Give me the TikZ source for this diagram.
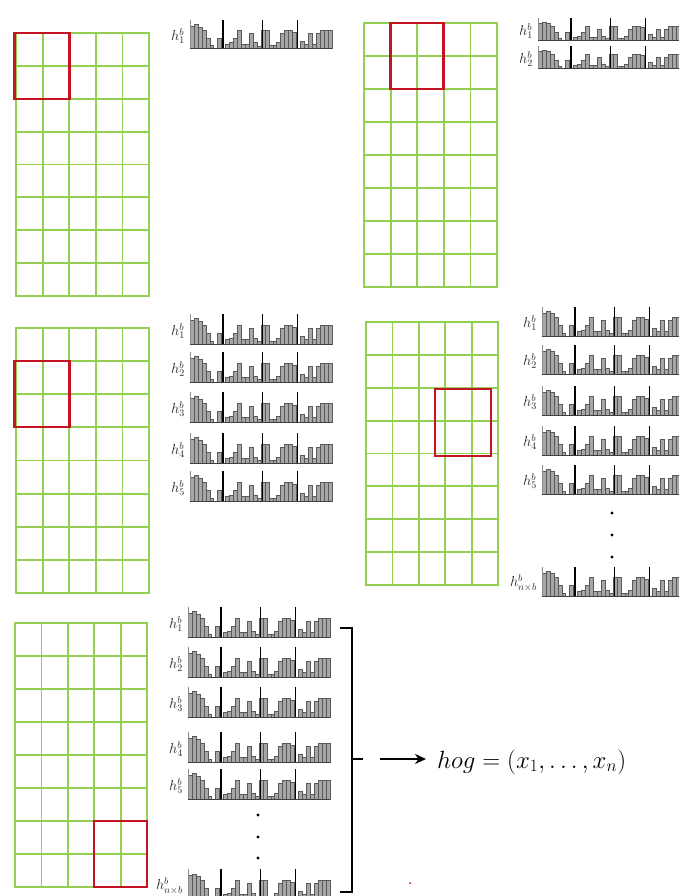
\documentclass[tikz,border=0pt]{standalone}
\usetikzlibrary{arrows.meta}
\definecolor{gridgreen}{RGB}{146,208,80}
\definecolor{boxred}{RGB}{195,20,35}
\def\histdata{0/0.83,1/0.89,2/0.8,3/0.67,4/0.39,5/0.11,7/0.39,9/0.17,10/0.22,11/0.39,12/0.67,13/0.17,14/0.17,15/0.56,16/0.22,17/0.1,18/0.67,19/0.67,20/0.11,21/0.11,22/0.22,23/0.56,24/0.67,25/0.67,26/0.61,28/0.28,29/0.17,30/0.56,31/0.17,32/0.56,33/0.67,34/0.67,35/0.67}
\def\spikelist{8,18,27}
\tikzset{
  gridline/.style={draw=gridgreen, line width=1.8pt},
  redbox/.style={draw=boxred, line width=2.8pt},
  histbar/.style={fill=black!35, draw=black!65, line width=0.4pt},
  spikeline/.style={draw=black, line width=1.4pt},
  axisline/.style={draw=black!45, line width=0.5pt},
  histbase/.style={draw=black!75, line width=0.8pt},
  hlabel/.style={anchor=east, inner sep=0pt, font=\fontsize{14}{14}\selectfont, text=black!85},
  vdot/.style={fill=black, draw=none},
  bracketline/.style={draw=black, line width=1.5pt},
}
\newcommand\hoggrid[4]{%
  \draw[gridline] (#1,#2) rectangle (#3,#4);
  \foreach \gk in {1,...,4} {\draw[gridline] ({#1+\gk*(#3-#1)/5},#2) -- ({#1+\gk*(#3-#1)/5},#4);}
  \foreach \gk in {1,...,7} {\draw[gridline] (#1,{#2+\gk*(#4-#2)/8}) -- (#3,{#2+\gk*(#4-#2)/8});}
}
\newcommand\hoghist[5]{%
  \begin{scope}[shift={(#1,{#2+#3/2})}]
    \foreach \hi/\hv in \histdata {\filldraw[histbar] ({\hi*3.94},0) rectangle ({(\hi+1)*3.94},{-\hv*#3});}
    \foreach \hs in \spikelist {\draw[spikeline] ({(\hs+0.35)*3.94},0) -- ({(\hs+0.35)*3.94},{-1.05*#3});}
    \draw[axisline] (0,0) -- (0,{-1.05*#3});
    \draw[histbase] (0,0) -- (142,0);
  \end{scope}
  \node[hlabel] (#4) at ({#1-5},{#2+1}) {$h^{b}_{#5}$};
}
\begin{document}
\begin{tikzpicture}[x=1pt,y=-1pt]
\useasboundingbox (0,0) rectangle (679,896);
\fill[white] (0,0) rectangle (679,896);

% grid 1
\hoggrid{16}{33}{149}{296}
\draw[redbox] (14.5,33) rectangle (69.2,99);
\hoghist{190}{35}{27}{ga1}{1}

% grid 2
\hoggrid{364}{23}{497}{287}
\draw[redbox] (390.6,23) rectangle (443.8,89);
\hoghist{538}{30}{21}{gb1}{1}
\hoghist{538}{58}{21}{gb2}{2}

% grid 3
\hoggrid{16}{328}{149}{593}
\draw[redbox] (14.5,361) rectangle (69.2,427);
\hoghist{190}{330}{29}{gc1}{1}
\hoghist{190}{368}{29}{gc2}{2}
\hoghist{190}{408}{29}{gc3}{3}
\hoghist{190}{449}{29}{gc4}{4}
\hoghist{190}{487}{29}{gc5}{5}

% grid 4
\hoggrid{366}{322}{498}{585}
\draw[redbox] (435,389) rectangle (491,456);
\hoghist{542}{322}{28}{gd1}{1}
\hoghist{542}{360}{28}{gd2}{2}
\hoghist{542}{401}{28}{gd3}{3}
\hoghist{542}{441}{28}{gd4}{4}
\hoghist{542}{480}{28}{gd5}{5}
\fill[vdot] (612,513) circle (1.6);
\fill[vdot] (612,535) circle (1.6);
\fill[vdot] (612,557) circle (1.6);
\hoghist{542}{582}{28}{gdn}{n\times b}

% grid 5
\hoggrid{15}{623}{147}{887}
\draw[redbox] (94,821) rectangle (147,887);
\hoghist{188}{623}{29}{ge1}{1}
\hoghist{188}{663}{29}{ge2}{2}
\hoghist{188}{703}{29}{ge3}{3}
\hoghist{188}{748}{29}{ge4}{4}
\hoghist{188}{785}{29}{ge5}{5}
\fill[vdot] (258,815) circle (1.6);
\fill[vdot] (258,837) circle (1.6);
\fill[vdot] (258,858) circle (1.6);
\hoghist{188}{885}{29}{gen}{n\times b}

% bracket and result
\coordinate (brtl) at (340,628);
\coordinate (brtr) at (352,628);
\coordinate (brbr) at (352,892);
\coordinate (brbl) at (340,892);
\coordinate (brmid) at (352,759);
\coordinate (brtick) at (363,759);
\draw[bracketline] (brtl) -- (brtr) -- (brbr) -- (brbl);
\draw[bracketline] (brmid) -- (brtick);
\node[anchor=west, inner sep=0pt, font=\fontsize{24}{24}\selectfont] (hog) at (437,762) {$hog=(x_1,\ldots,x_n)$};
\coordinate (astart) at (380,759);
\draw[line width=2.4pt, -{Stealth[length=11pt,width=10pt]}] (astart) -- (astart -| hog.west) [shorten >=11pt];
\fill[boxred] (410,883) circle (1);
\end{tikzpicture}
\end{document}
